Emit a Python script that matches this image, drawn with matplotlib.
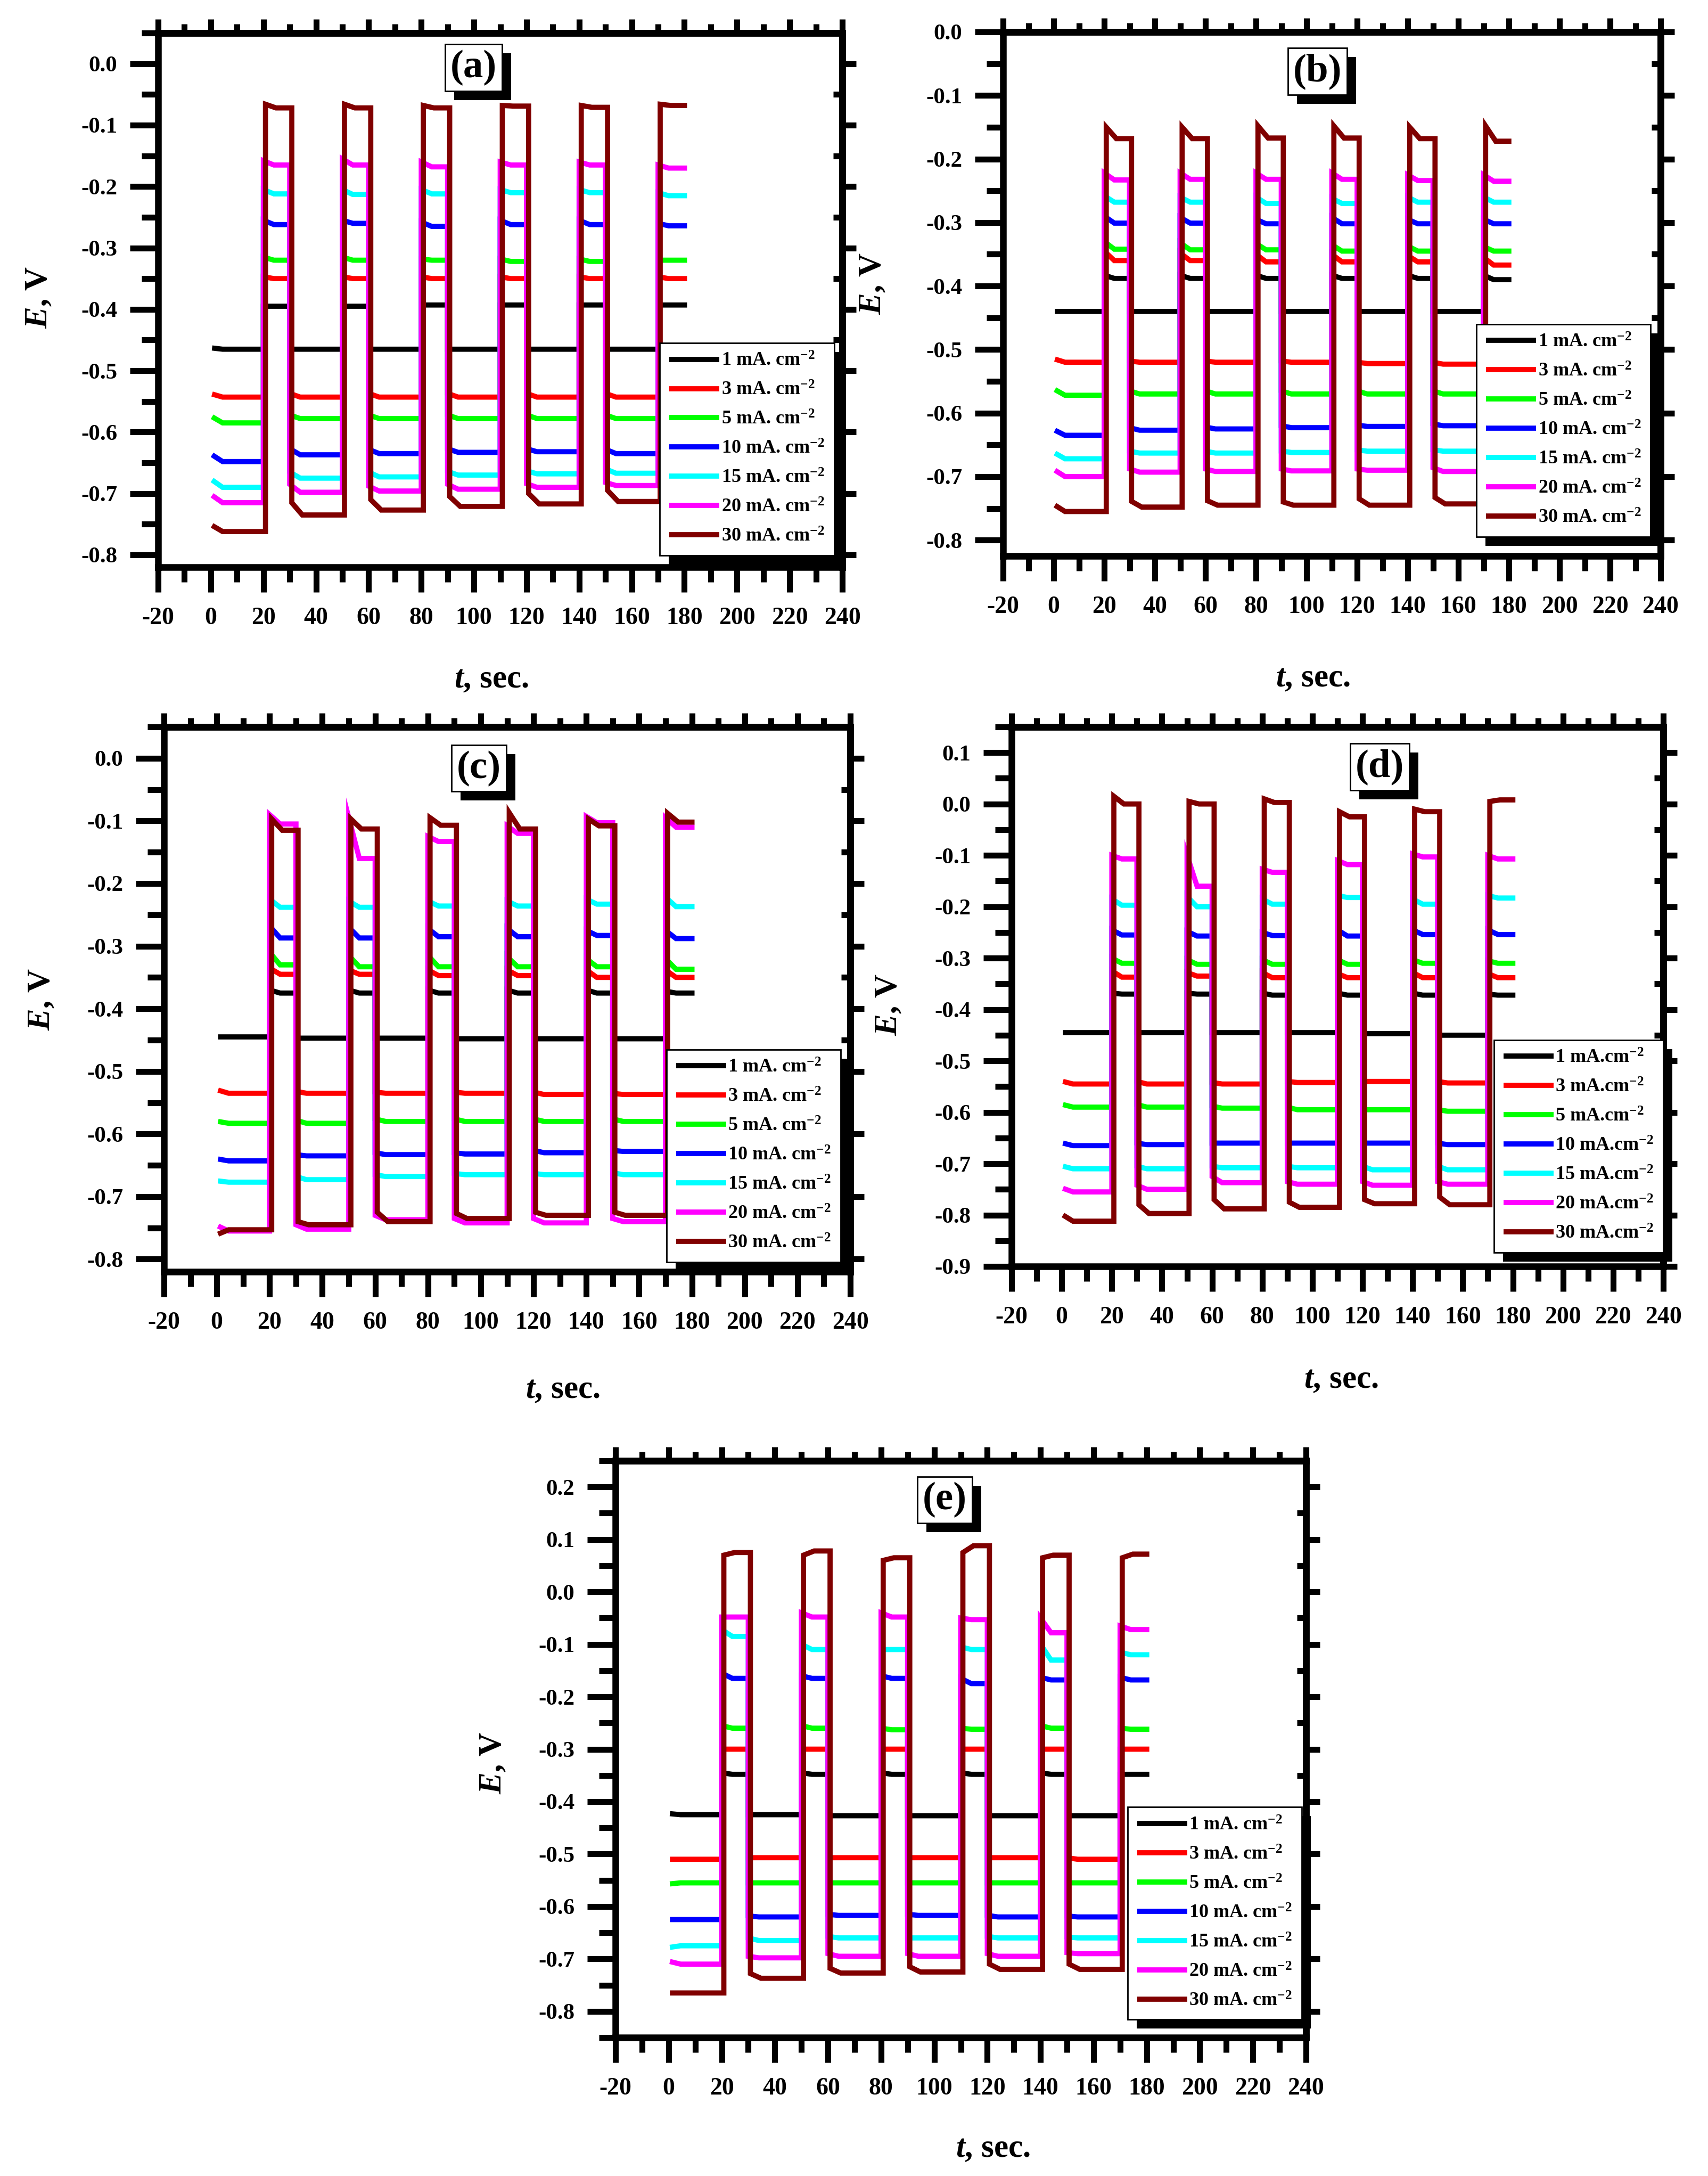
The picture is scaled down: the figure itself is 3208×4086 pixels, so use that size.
import matplotlib
matplotlib.use('Agg')
import matplotlib.pyplot as plt
from matplotlib.ticker import MultipleLocator, FuncFormatter
from matplotlib.patches import Rectangle
from matplotlib.transforms import IdentityTransform

plt.rcParams['font.family'] = ['Liberation Serif', 'DejaVu Serif']
plt.rcParams['font.weight'] = 'bold'
plt.rcParams['mathtext.fontset'] = 'custom'
plt.rcParams['mathtext.rm'] = 'Liberation Serif:bold'
plt.rcParams['mathtext.it'] = 'Liberation Serif:italic:bold'
plt.rcParams['mathtext.bf'] = 'Liberation Serif:bold'

# ---------------- data ----------------
# segment edges (s): low 0-20, high 20-30, low 30-50, ... high 170-181
T_EDGES = [0.5, 20, 30, 50, 60, 80, 90, 110, 120, 140, 150, 170, 181]
CURRENTS = [1, 3, 5, 10, 15, 20, 30]
COLORS = ['#000000', '#ff0000', '#00ff00', '#0000ff', '#00ffff', '#ff00ff', '#800000']
# each list: [start, end] potential (V) for the 12 segments in order

a_1 = [-0.463, -0.465, -0.395, -0.395, -0.465, -0.465, -0.395, -0.395, -0.465, -0.465, -0.393, -0.393,
       -0.465, -0.465, -0.393, -0.393, -0.465, -0.465, -0.393, -0.393, -0.465, -0.465, -0.393, -0.393]
a_3 = [-0.538, -0.543, -0.347, -0.350, -0.537, -0.543, -0.347, -0.350, -0.537, -0.543, -0.347, -0.350,
       -0.537, -0.543, -0.347, -0.350, -0.537, -0.543, -0.347, -0.350, -0.537, -0.543, -0.347, -0.350]
a_5 = [-0.575, -0.585, -0.315, -0.320, -0.572, -0.578, -0.315, -0.320, -0.572, -0.578, -0.318, -0.320,
       -0.572, -0.578, -0.318, -0.322, -0.572, -0.578, -0.318, -0.322, -0.572, -0.578, -0.320, -0.320]
a_10 = [-0.637, -0.648, -0.255, -0.262, -0.627, -0.637, -0.255, -0.260, -0.628, -0.635, -0.258, -0.265,
        -0.627, -0.633, -0.255, -0.262, -0.627, -0.632, -0.255, -0.262, -0.628, -0.635, -0.260, -0.264]
a_15 = [-0.678, -0.690, -0.205, -0.212, -0.665, -0.675, -0.205, -0.213, -0.665, -0.673, -0.205, -0.212,
        -0.664, -0.670, -0.205, -0.210, -0.663, -0.668, -0.205, -0.210, -0.660, -0.667, -0.210, -0.215]
a_20 = [-0.703, -0.715, -0.158, -0.165, -0.685, -0.698, -0.155, -0.165, -0.688, -0.696, -0.160, -0.168,
        -0.685, -0.693, -0.160, -0.165, -0.684, -0.690, -0.160, -0.165, -0.682, -0.687, -0.165, -0.170]
a_30 = [-0.752, -0.762, -0.066, -0.072, -0.715, -0.735, -0.066, -0.072, -0.710, -0.727, -0.068, -0.072,
        -0.705, -0.721, -0.068, -0.069, -0.700, -0.717, -0.068, -0.071, -0.695, -0.713, -0.066, -0.068]

b_1 = [-0.440, -0.440, -0.383, -0.388, -0.440, -0.440, -0.383, -0.388, -0.440, -0.440, -0.383, -0.388,
       -0.440, -0.440, -0.383, -0.388, -0.440, -0.440, -0.383, -0.388, -0.440, -0.440, -0.383, -0.390]
b_3 = [-0.515, -0.520, -0.345, -0.360, -0.518, -0.520, -0.348, -0.360, -0.518, -0.520, -0.350, -0.362,
       -0.518, -0.520, -0.350, -0.362, -0.520, -0.522, -0.352, -0.362, -0.520, -0.523, -0.355, -0.367]
b_5 = [-0.563, -0.572, -0.330, -0.342, -0.565, -0.570, -0.332, -0.343, -0.565, -0.570, -0.333, -0.343,
       -0.565, -0.570, -0.335, -0.345, -0.565, -0.570, -0.337, -0.345, -0.565, -0.570, -0.338, -0.345]
b_10 = [-0.627, -0.635, -0.290, -0.301, -0.623, -0.627, -0.292, -0.301, -0.622, -0.625, -0.295, -0.302,
        -0.620, -0.623, -0.292, -0.302, -0.619, -0.621, -0.295, -0.302, -0.617, -0.620, -0.295, -0.302]
b_15 = [-0.663, -0.672, -0.258, -0.268, -0.660, -0.663, -0.260, -0.268, -0.660, -0.663, -0.260, -0.270,
        -0.660, -0.662, -0.262, -0.270, -0.658, -0.660, -0.260, -0.268, -0.658, -0.660, -0.260, -0.268]
b_20 = [-0.690, -0.700, -0.222, -0.233, -0.688, -0.693, -0.222, -0.232, -0.688, -0.692, -0.222, -0.232,
        -0.688, -0.691, -0.222, -0.232, -0.688, -0.690, -0.225, -0.234, -0.686, -0.692, -0.225, -0.235]
b_30 = [-0.745, -0.755, -0.150, -0.168, -0.739, -0.748, -0.150, -0.168, -0.738, -0.745, -0.148, -0.167,
        -0.740, -0.745, -0.148, -0.167, -0.735, -0.745, -0.150, -0.168, -0.733, -0.743, -0.148, -0.172]

c_1 = [-0.445, -0.445, -0.370, -0.375, -0.447, -0.447, -0.370, -0.375, -0.447, -0.447, -0.370, -0.375,
       -0.448, -0.448, -0.370, -0.375, -0.448, -0.448, -0.370, -0.375, -0.448, -0.448, -0.372, -0.375]
c_3 = [-0.530, -0.535, -0.335, -0.345, -0.532, -0.535, -0.338, -0.345, -0.533, -0.535, -0.338, -0.347,
       -0.533, -0.535, -0.338, -0.347, -0.533, -0.537, -0.338, -0.350, -0.535, -0.537, -0.338, -0.350]
c_5 = [-0.580, -0.583, -0.310, -0.330, -0.578, -0.583, -0.315, -0.333, -0.576, -0.580, -0.315, -0.333,
       -0.576, -0.580, -0.317, -0.333, -0.576, -0.580, -0.320, -0.333, -0.576, -0.580, -0.320, -0.337]
c_10 = [-0.640, -0.643, -0.268, -0.287, -0.633, -0.635, -0.270, -0.287, -0.630, -0.633, -0.272, -0.285,
        -0.630, -0.632, -0.272, -0.285, -0.626, -0.630, -0.275, -0.283, -0.626, -0.628, -0.275, -0.288]
c_15 = [-0.675, -0.677, -0.225, -0.238, -0.668, -0.673, -0.228, -0.238, -0.665, -0.668, -0.228, -0.236,
        -0.663, -0.665, -0.228, -0.236, -0.663, -0.665, -0.225, -0.233, -0.662, -0.665, -0.222, -0.237]
c_20 = [-0.747, -0.755, -0.090, -0.105, -0.745, -0.752, -0.095, -0.160, -0.730, -0.737, -0.125, -0.133,
        -0.735, -0.742, -0.108, -0.120, -0.735, -0.742, -0.093, -0.103, -0.735, -0.740, -0.095, -0.110]
c_30 = [-0.760, -0.753, -0.097, -0.115, -0.740, -0.745, -0.097, -0.113, -0.725, -0.740, -0.095, -0.107,
        -0.727, -0.735, -0.087, -0.113, -0.725, -0.730, -0.097, -0.108, -0.725, -0.730, -0.088, -0.102]

d_1 = [-0.445, -0.445, -0.368, -0.370, -0.445, -0.445, -0.368, -0.370, -0.445, -0.445, -0.368, -0.372,
       -0.445, -0.445, -0.368, -0.372, -0.447, -0.447, -0.368, -0.372, -0.450, -0.450, -0.370, -0.372]
d_3 = [-0.540, -0.545, -0.325, -0.337, -0.540, -0.545, -0.328, -0.335, -0.542, -0.545, -0.328, -0.338,
       -0.540, -0.542, -0.330, -0.338, -0.540, -0.540, -0.328, -0.338, -0.540, -0.543, -0.330, -0.338]
d_5 = [-0.585, -0.590, -0.300, -0.310, -0.585, -0.590, -0.303, -0.312, -0.588, -0.592, -0.303, -0.312,
       -0.590, -0.595, -0.303, -0.312, -0.595, -0.595, -0.303, -0.310, -0.595, -0.598, -0.305, -0.310]
d_10 = [-0.660, -0.665, -0.245, -0.255, -0.660, -0.663, -0.248, -0.257, -0.660, -0.660, -0.250, -0.256,
        -0.660, -0.660, -0.245, -0.257, -0.660, -0.660, -0.245, -0.254, -0.660, -0.663, -0.245, -0.254]
d_15 = [-0.705, -0.710, -0.185, -0.197, -0.705, -0.710, -0.180, -0.200, -0.705, -0.708, -0.185, -0.195,
        -0.705, -0.708, -0.178, -0.182, -0.705, -0.712, -0.185, -0.195, -0.705, -0.712, -0.178, -0.183]
d_20 = [-0.748, -0.755, -0.100, -0.107, -0.742, -0.750, -0.100, -0.160, -0.725, -0.737, -0.127, -0.133,
        -0.735, -0.740, -0.110, -0.118, -0.735, -0.742, -0.097, -0.103, -0.735, -0.740, -0.100, -0.107]
d_30 = [-0.800, -0.812, 0.015, 0.000, -0.780, -0.797, 0.005, 0.000, -0.770, -0.788, 0.010, 0.003,
        -0.775, -0.785, -0.015, -0.025, -0.770, -0.778, -0.010, -0.015, -0.765, -0.780, 0.005, 0.008]

e_1 = [-0.423, -0.425, -0.345, -0.348, -0.425, -0.425, -0.345, -0.348, -0.427, -0.427, -0.345, -0.348,
       -0.427, -0.427, -0.345, -0.348, -0.427, -0.427, -0.345, -0.348, -0.427, -0.427, -0.348, -0.348]
e_3 = [-0.510, -0.510, -0.300, -0.300, -0.507, -0.507, -0.300, -0.300, -0.507, -0.507, -0.300, -0.300,
       -0.507, -0.507, -0.300, -0.300, -0.507, -0.507, -0.300, -0.300, -0.507, -0.510, -0.300, -0.300]
e_5 = [-0.557, -0.555, -0.255, -0.260, -0.555, -0.555, -0.255, -0.260, -0.555, -0.555, -0.260, -0.263,
       -0.555, -0.555, -0.260, -0.262, -0.555, -0.555, -0.255, -0.260, -0.555, -0.555, -0.260, -0.262]
e_10 = [-0.625, -0.625, -0.155, -0.165, -0.618, -0.620, -0.160, -0.165, -0.615, -0.617, -0.160, -0.165,
        -0.615, -0.617, -0.165, -0.175, -0.617, -0.620, -0.163, -0.168, -0.618, -0.620, -0.163, -0.168]
e_15 = [-0.678, -0.675, -0.072, -0.085, -0.660, -0.665, -0.100, -0.110, -0.657, -0.660, -0.110, -0.110,
        -0.660, -0.660, -0.105, -0.110, -0.657, -0.660, -0.100, -0.130, -0.658, -0.660, -0.115, -0.120]
e_20 = [-0.705, -0.710, -0.048, -0.048, -0.695, -0.698, -0.040, -0.048, -0.690, -0.695, -0.040, -0.048,
        -0.690, -0.695, -0.050, -0.053, -0.690, -0.695, -0.050, -0.078, -0.688, -0.690, -0.065, -0.072]
e_30 = [-0.765, -0.765, 0.070, 0.075, -0.728, -0.737, 0.070, 0.078, -0.718, -0.727, 0.060, 0.065,
        -0.715, -0.725, 0.075, 0.088, -0.710, -0.720, 0.065, 0.070, -0.710, -0.720, 0.065, 0.072]

PANEL_DATA = {
    'a': [a_1, a_3, a_5, a_10, a_15, a_20, a_30],
    'b': [b_1, b_3, b_5, b_10, b_15, b_20, b_30],
    'c': [c_1, c_3, c_5, c_10, c_15, c_20, c_30],
    'd': [d_1, d_3, d_5, d_10, d_15, d_20, d_30],
    'e': [e_1, e_3, e_5, e_10, e_15, e_20, e_30],
}
YLIMS = {'a': (-0.82, 0.05), 'b': (-0.825, 0.0), 'c': (-0.82, 0.05),
         'd': (-0.9, 0.15), 'e': (-0.85, 0.25)}
X_TICK_STEP = 20
Y_TICK_STEP = 0.1

# ---------------- layout ----------------
W, H = 3208, 4086
fig = plt.figure(figsize=(W / 100, H / 100), dpi=100)

LAYOUT = {
    'a': dict(box=(297, 1582, 62, 1065), yl=(-0.174, 0.505), xl=(0.487, -0.211), tt=(0.461, 0.935), lg=(0.988, 0.022)),
    'b': dict(box=(1884, 3119, 60, 1044), yl=(-0.198, 0.52), xl=(0.471, -0.234), tt=(0.478, 0.925), lg=(0.985, 0.037)),
    'c': dict(box=(308, 1597, 1365, 2388), yl=(-0.178, 0.50), xl=(0.581, -0.217), tt=(0.459, 0.924), lg=(0.986, 0.018)),
    'd': dict(box=(1900, 3124, 1365, 2378), yl=(-0.188, 0.485), xl=(0.506, -0.211), tt=(0.565, 0.926), lg=(1.0, 0.026)),
    'e': dict(box=(1156, 2453, 2743, 3826), yl=(-0.177, 0.476), xl=(0.547, -0.193), tt=(0.477, 0.932), lg=(0.994, 0.031)),
}

LW = 7
SETTLE = 4.0
BROWN_LAG = 0.8
SPINE_W = 9
TICK_W = 8
SHADOW = 17


def yfmt(v, p):
    if abs(v) < 1e-9:
        v = 0.0
    return f"{v:.1f}"


def xfmt(v, p):
    return f"{int(round(v))}"


def draw_series(ax, vals, color, lag, label):
    xs, ys = [], []
    for k in range(12):
        t0 = T_EDGES[k] + (lag if k > 0 else 0.0)
        t1 = T_EDGES[k + 1] + (lag if k < 11 else 0.0)
        s, e = vals[2 * k], vals[2 * k + 1]
        xs += [t0, min(t0 + SETTLE, t1), t1]
        ys += [s, e, e]
    ax.plot(xs, ys, color=color, lw=LW, label=label, solid_joinstyle='miter',
            solid_capstyle='butt', zorder=2)


axes = {}
legends = {}
titles = {}
for key in ['a', 'b', 'c', 'd', 'e']:
    L = LAYOUT[key]
    l, r, t, b = L['box']
    ax = fig.add_axes([l / W, 1 - b / H, (r - l) / W, (b - t) / H])
    axes[key] = ax
    sep = '.' if key == 'd' else '. '
    for cur, col, vals in zip(CURRENTS, COLORS, PANEL_DATA[key]):
        lag = BROWN_LAG if cur == 30 else 0.0
        draw_series(ax, vals, col, lag, f"{cur} mA{sep}cm$^{{-2}}$")

    ax.set_xlim(-20, 240)
    ax.set_ylim(*YLIMS[key])
    ax.xaxis.set_major_locator(MultipleLocator(X_TICK_STEP))
    ax.xaxis.set_minor_locator(MultipleLocator(X_TICK_STEP / 2))
    ax.yaxis.set_major_locator(MultipleLocator(Y_TICK_STEP))
    ax.yaxis.set_minor_locator(MultipleLocator(Y_TICK_STEP / 2))
    ax.xaxis.set_major_formatter(FuncFormatter(xfmt))
    ax.yaxis.set_major_formatter(FuncFormatter(yfmt))
    for sp in ax.spines.values():
        sp.set_linewidth(SPINE_W)
    ax.tick_params(axis='x', which='major', direction='out', length=34, width=TICK_W,
                   pad=20, labelsize=33, top=False)
    ax.tick_params(axis='x', which='minor', direction='out', length=20, width=TICK_W, top=False)
    ax.tick_params(axis='y', which='major', direction='out', length=38, width=TICK_W,
                   pad=17, labelsize=31, right=False)
    ax.tick_params(axis='y', which='minor', direction='out', length=22, width=TICK_W, right=False)
    for lab in ax.get_xticklabels() + ax.get_yticklabels():
        lab.set_fontweight('bold')

    sx = ax.secondary_xaxis('top')
    sx.xaxis.set_major_locator(MultipleLocator(X_TICK_STEP))
    sx.xaxis.set_minor_locator(MultipleLocator(X_TICK_STEP / 2))
    sx.tick_params(which='major', direction='out', length=19, width=TICK_W, labeltop=False)
    sx.tick_params(which='minor', direction='out', length=12, width=TICK_W)
    sx.spines['top'].set_linewidth(SPINE_W)
    sy = ax.secondary_yaxis('right')
    sy.yaxis.set_major_locator(MultipleLocator(Y_TICK_STEP))
    sy.yaxis.set_minor_locator(MultipleLocator(Y_TICK_STEP / 2))
    sy.tick_params(which='major', direction='out', length=19, width=TICK_W, labelright=False)
    sy.tick_params(which='minor', direction='in', length=12, width=TICK_W)
    sy.spines['right'].set_linewidth(SPINE_W)

    ax.text(L['yl'][0], L['yl'][1], r'$E$, V', transform=ax.transAxes, rotation=90,
            ha='center', va='center', fontsize=44, fontweight='bold')
    ax.text(L['xl'][0], L['xl'][1], r'$t$, sec.', transform=ax.transAxes,
            ha='center', va='center', fontsize=44, fontweight='bold')

    titles[key] = ax.text(L['tt'][0], L['tt'][1], f'({key})', transform=ax.transAxes,
                          ha='center', va='center', fontsize=54, fontweight='bold', color='black',
                          bbox=dict(boxstyle='square,pad=0.13', fc='white', ec='black', lw=2),
                          zorder=7)

    leg = ax.legend(loc='lower right', bbox_to_anchor=L['lg'], borderaxespad=0,
                    prop={'size': 26, 'weight': 'bold'}, frameon=True, fancybox=False,
                    edgecolor='black', framealpha=1, handlelength=2.6, handletextpad=0.1,
                    labelspacing=0.6, borderpad=0.5)
    leg.get_frame().set_linewidth(2)
    leg.set_zorder(8)
    legends[key] = leg

fig.canvas.draw()
for key, ax in axes.items():
    bb = legends[key].get_window_extent()
    ax.add_artist(Rectangle((bb.x0 + SHADOW, bb.y0 - SHADOW), bb.width, bb.height,
                            transform=IdentityTransform(), facecolor='black', edgecolor='none',
                            zorder=7.5, clip_on=False))
    tb = titles[key].get_bbox_patch().get_window_extent()
    ax.add_artist(Rectangle((tb.x0 + SHADOW, tb.y0 - SHADOW), tb.width, tb.height,
                            transform=IdentityTransform(), facecolor='black', edgecolor='none',
                            zorder=6.5, clip_on=False))

fig.savefig('out.png', dpi=100)
